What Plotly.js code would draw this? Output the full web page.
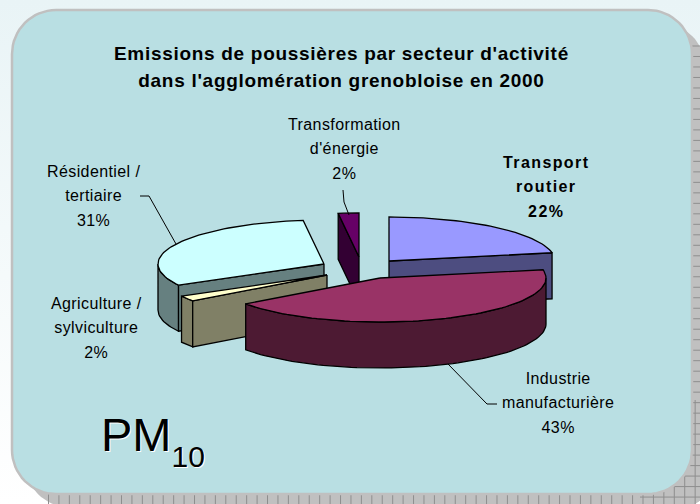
<!DOCTYPE html>
<html><head><meta charset="utf-8">
<script src="https://cdn.plot.ly/plotly-3.0.1.min.js"></script>
<style>html,body{margin:0;padding:0;background:#fff}#c{width:700px;height:504px}</style>
</head><body><div id="c"></div>
<script>
// ---- data (clockwise from 12 o'clock) ----
const sectors = ["Transport<br>routier", "Industrie<br>manufacturière", "Agriculture /<br>sylviculture", "Résidentiel /<br>tertiaire", "Transformation<br>d'énergie"];
const shares = [22, 43, 2, 31, 2];
const titleLines = ["Emissions de poussières par secteur d'activité", "dans l'agglomération grenobloise en 2000"];
// ---- styles ----
const topColors = ["#9999FF", "#993366", "#FFFFCC", "#CCFFFF", "#660066"];
const sideColors = ["#4D4D80", "#4D1A33", "#808066", "#668080", "#330033"];
const centers = [[389, 261], [380, 278], [327, 275], [324, 264], [359, 257]];
const labelPos = [[546, 187], [558, 403], [96, 328], [93, 196], [344, 149]];
const RX = 166, RY = 44, DEPTH = 46;
const PANEL = "#B9DFE3", EDGE = "#C0C0C0";

const rad = d => d * Math.PI / 180;
const pt = (c, a, dz = 0) => [c[0] + RX * Math.sin(rad(a)), c[1] - RY * Math.cos(rad(a)) + dz];
function arc(c, a0, a1, dz = 0) {
  const n = Math.max(2, Math.ceil(Math.abs(a1 - a0) / 2)), out = [];
  for (let i = 0; i <= n; i++) out.push(pt(c, a0 + (a1 - a0) * i / n, dz));
  return out;
}
const traces = [];
function poly(points, fill, line, width) {
  const p = points.concat([points[0]]);
  traces.push({type: "scatter", mode: "lines", x: p.map(q => q[0]), y: p.map(q => q[1]), fill: "toself",
    fillcolor: fill, line: {color: line, width: width === undefined ? 1.3 : width, shape: "linear"}, hoverinfo: "skip", showlegend: false});
}
function rounded(x0, y0, x1, y1, r, rBR) {
  const out = [];
  const c = (cx, cy, a0, rr) => { for (let i = 0; i <= 16; i++) { const a = rad(a0 + 90 * i / 16); out.push([cx + rr * Math.cos(a), cy + rr * Math.sin(a)]); } };
  c(x0 + r, y0 + r, 180, r); c(x1 - r, y0 + r, 270, r); c(x1 - rBR, y1 - rBR, 0, rBR); c(x0 + r, y1 - r, 90, r);
  return out;
}
// page background
traces.push({type: "scatter", mode: "lines", x: [0, 700, 700, 0, 0], y: [0, 0, 504, 504, 0], fill: "toself",
  fillgradient: {type: "vertical", colorscale: [[0, "#FFFFFF"], [1, "#E9F4F6"]]}, line: {width: 0}, hoverinfo: "skip", showlegend: false});
// shadow
poly(rounded(25, 23, 705, 507, 44, 20), "#C0C0C0", "#C0C0C0", 0);
const gx = [], gy = [];
for (let x = 48.5; x < 700; x += 10.43) { gx.push(x, x, null); gy.push(400, 504, null); }
for (let y = 46; y < 504; y += 10.49) { gx.push(640, 700, null); gy.push(y, y, null); }
traces.push({type: "scatter", mode: "lines", x: gx, y: gy, line: {color: "#8E8E8E", width: 1}, hoverinfo: "skip", showlegend: false});
poly(rounded(12, 10, 692, 494, 44, 44), PANEL, EDGE, 2.5);

// slices: index into arrays
const cum = []; shares.reduce((s, v, i) => (cum[i] = s + v, cum[i]), 0);
const angA = i => (i === 0 ? 0 : cum[i - 1]) * 3.6;
const angB = i => cum[i] * 3.6;
function face(i) { poly([centers[i]].concat(arc(centers[i], angA(i), angB(i))), topColors[i], "#000"); }
function outer(i, a0, a1) { const c = centers[i]; poly(arc(c, a0, a1).concat(arc(c, a1, a0, DEPTH)), sideColors[i], "#000"); }
function radial(i, a) { const c = centers[i], p = pt(c, a); poly([c, p, [p[0], p[1] + DEPTH], [c[0], c[1] + DEPTH]], sideColors[i], "#000"); }
// Transformation d'énergie
radial(4, angA(4)); face(4);
// Transport routier
radial(0, angB(0)); face(0);
// Résidentiel
outer(3, angA(3), 270); radial(3, angA(3)); face(3);
// Agriculture
outer(2, angA(2), angB(2)); radial(2, angA(2)); face(2);
// Industrie
outer(1, 90, angB(1)); face(1);

// labels
const ann = sectors.map((s, i) => {
  const st = i === 0 ? "letter-spacing:1.4px;font-size:16px" : "letter-spacing:0.4px;font-size:16px";
  const body = (s + "<br>" + shares[i] + "%").split("<br>").map(t => `<span style="${st}">${t}</span>`).join("<br>");
  return {x: labelPos[i][0], y: labelPos[i][1], xref: "x", yref: "y", showarrow: false, xanchor: "center", yanchor: "middle", align: "center",
    text: i === 0 ? "<b>" + body + "</b>" : body, font: {family: "Liberation Sans", size: 18.8, color: "#000"}};
});
ann.push({x: 341, y: 67, xref: "x", yref: "y", showarrow: false, xanchor: "center", yanchor: "middle", align: "center",
  text: titleLines.map(t => `<b><span style="letter-spacing:0.7px;font-size:19px">${t}</span></b>`).join("<br>"),
  font: {family: "Liberation Sans", size: 20.8, color: "#000"}});
ann.push({x: 99, y: 440, xref: "x", yref: "y", showarrow: false, xanchor: "left", yanchor: "middle",
  text: 'PM<span style="font-size:30px;baseline-shift:-16px">10</span>', font: {family: "Liberation Sans", size: 47, color: "#000", shadow: "1px 1px 0 #fff"}});

const leader = (d) => ({type: "path", path: d, line: {color: "#000", width: 1}, layer: "above", xref: "x", yref: "y"});
Plotly.newPlot("c", traces, {
  width: 700, height: 504, margin: {l: 0, r: 0, t: 0, b: 0}, paper_bgcolor: "#fff", plot_bgcolor: "rgba(0,0,0,0)", showlegend: false,
  xaxis: {range: [0, 700], visible: false, fixedrange: true},
  yaxis: {range: [504, 0], visible: false, fixedrange: true},
  annotations: ann,
  shapes: [leader("M140,196 L149,196 L176,244"), leader("M343,190 L344,202 L349,215"), leader("M448,364 L487,404 L497,404")]
}, {staticPlot: true, displayModeBar: false});
</script></body></html>
